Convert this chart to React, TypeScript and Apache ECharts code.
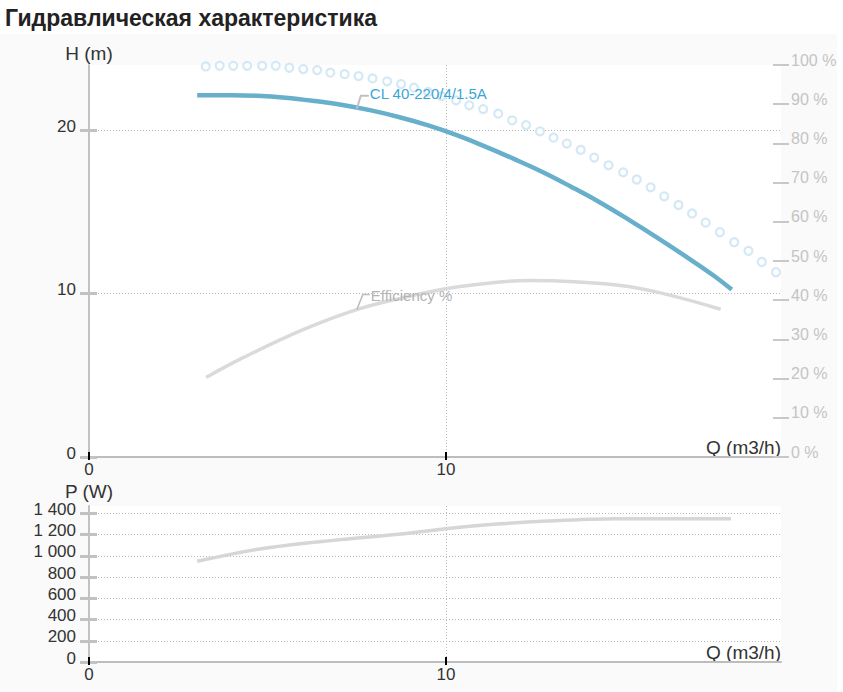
import React, { useEffect, useRef } from "react";
import * as echarts from "echarts";

// Head curve H(Q)
const headQ = [3.03, 4.0, 4.7, 5.5, 6.3, 7.1, 7.9, 8.7, 9.5, 10.3, 11.1, 11.9, 12.7, 13.5, 14.3, 15.1, 15.9, 16.7, 17.5, 18.0];
const headH = [22.15, 22.15, 22.12, 22.0, 21.8, 21.55, 21.22, 20.8, 20.3, 19.7, 19.0, 18.25, 17.45, 16.55, 15.6, 14.55, 13.45, 12.3, 11.1, 10.25];

// Dotted (circles) curve
const dotQ = [3.27, 3.66, 4.04, 4.43, 4.85, 5.23, 5.61, 6.0, 6.39, 6.76, 7.16, 7.55, 7.94, 8.35, 8.74, 9.1, 9.5, 9.88, 10.28, 10.65, 11.04, 11.46, 11.85, 12.24, 12.63, 13.01, 13.38, 13.77, 14.15, 14.55, 14.96, 15.34, 15.73, 16.11, 16.51, 16.89, 17.27, 17.67, 18.07, 18.47, 18.84, 19.24];
const dotH = [23.91, 23.95, 23.95, 23.95, 23.95, 23.95, 23.83, 23.75, 23.69, 23.53, 23.44, 23.32, 23.18, 23.0, 22.83, 22.61, 22.35, 22.08, 21.83, 21.53, 21.3, 21.02, 20.61, 20.32, 19.94, 19.55, 19.19, 18.8, 18.33, 17.86, 17.43, 16.99, 16.51, 15.96, 15.43, 14.91, 14.35, 13.76, 13.15, 12.62, 11.94, 11.31];

// Efficiency (%)
const effQ = [3.28, 4.33, 6.03, 7.5, 8.83, 10.03, 11.43, 12.33, 13.13, 14.83, 16.03, 17.69];
const effV = [20.3, 25.4, 32.6, 37.6, 40.7, 43.0, 44.6, 45.0, 44.9, 43.8, 41.8, 37.7];

// Power (W)
const powQ = [3.03, 4.83, 6.83, 8.83, 9.98, 11.33, 12.83, 14.73, 17.98];
const powP = [949, 1068, 1146, 1209, 1256, 1297, 1328, 1350, 1350];

// Ticks
const qTicks = [0, 10];
const hTicks = [0, 10, 20];
const pTicks = [0, 200, 400, 600, 800, 1000, 1200, 1400];

const TITLE = "Гидравлическая характеристика";
const HEAD_LABEL = "CL 40-220/4/1.5A";
const EFF_LABEL = "Efficiency %";
const LABEL_Q = 7.5;

const FONT = "'Liberation Sans', Arial, sans-serif";
const Q_MAX = 19.38;
const H_MAX = 24;
const P_MAX = 1470;

const zip = (a: number[], b: number[]) => a.map((v, i) => [v, b[i]]);

// position on a polyline, only used to anchor the annotation labels
const at = (xs: number[], ys: number[], x: number) => {
  for (let i = 1; i < xs.length; i++) {
    if (x <= xs[i]) {
      const t = (x - xs[i - 1]) / (xs[i] - xs[i - 1]);
      return ys[i - 1] + t * (ys[i] - ys[i - 1]);
    }
  }
  return ys[ys.length - 1];
};

const fmtP = (v: number) =>
  v >= 1000 ? `${Math.floor(v / 1000)} ${String(v % 1000).padStart(3, "0")}` : String(v);

export default function App() {
  const ref = useRef<HTMLDivElement>(null);

  useEffect(() => {
    if (!ref.current) return;
    const chart = echarts.init(ref.current, null, { renderer: "svg" });

    const gridTop = { left: 89, top: 65, width: 692, height: 392, outerBoundsMode: "none", containLabel: false };
    const gridBot = { left: 89, top: 506, width: 692, height: 156, outerBoundsMode: "none", containLabel: false };

    const dotted = { show: true, lineStyle: { color: "#bbbbbb", width: 1, type: [1, 2] as any } };
    const axisGray = "#c2c2c2";

    const mainX = (gridIndex: number) => ({
      type: "value",
      gridIndex,
      min: 0,
      max: Q_MAX,
      interval: 10,
      name: "Q (m3/h)",
      nameLocation: "end",
      nameGap: 0,
      nameTextStyle: {
        fontSize: 19,
        color: "#333",
        fontFamily: FONT,
        align: "right",
        verticalAlign: "bottom",
      },
      axisLine: { show: true, onZero: false, lineStyle: { color: "#bdbdbd", width: 2 } },
      axisTick: { show: true, inside: true, length: 5, customValues: qTicks, lineStyle: { color: "#000", width: 2 } },
      axisLabel: { show: true, customValues: qTicks, margin: 4, fontSize: 17, color: "#333", fontFamily: FONT },
      splitLine: { ...dotted, showMinLine: false },
    });

    const overlayX = (gridIndex: number) => ({
      type: "value",
      gridIndex,
      min: 0,
      max: Q_MAX,
      interval: 10,
      axisLine: { show: false, onZero: false },
      axisTick: { show: true, inside: false, length: 3, customValues: qTicks, lineStyle: { color: "#000", width: 2 } },
      axisLabel: { show: false },
      splitLine: { show: false },
    });

    const leftLabel = {
      margin: 13,
      fontSize: 17,
      color: "#333",
      fontFamily: FONT,
      verticalAlign: "bottom",
      lineHeight: 8,
    };

    const option: any = {
      animation: false,
      textStyle: { fontFamily: FONT },
      grid: [
        { ...gridTop, show: true, backgroundColor: "#ffffff", borderWidth: 0 },
        { ...gridBot, show: true, backgroundColor: "#ffffff", borderWidth: 0 },
        { ...gridTop, show: false },
        { ...gridBot, show: false },
      ],
      xAxis: [mainX(0), mainX(1), overlayX(2), overlayX(3)],
      yAxis: [
        {
          type: "value",
          gridIndex: 0,
          position: "left",
          min: 0,
          max: H_MAX,
          interval: 10,
          name: "H (m)",
          nameLocation: "end",
          nameGap: 2,
          nameTextStyle: { fontSize: 19, color: "#333", fontFamily: FONT, align: "center", verticalAlign: "bottom" },
          axisLine: { show: true, lineStyle: { color: axisGray, width: 2 } },
          axisTick: { show: true, inside: false, length: 9, customValues: hTicks, lineStyle: { color: axisGray, width: 3 } },
          axisLabel: { ...leftLabel, customValues: hTicks },
          splitLine: { ...dotted, showMinLine: false },
        },
        {
          type: "value",
          gridIndex: 0,
          position: "right",
          min: 0,
          max: 100,
          interval: 10,
          axisLine: { show: false },
          axisTick: { show: true, inside: false, length: 8, lineStyle: { color: "#c8c8c8", width: 2 } },
          axisLabel: {
            margin: 10,
            fontSize: 16,
            color: "#c4c4c4",
            fontFamily: FONT,
            formatter: "{value} %",
            verticalAlign: "bottom",
            lineHeight: 10,
          },
          splitLine: { show: false },
        },
        {
          type: "value",
          gridIndex: 1,
          position: "left",
          min: 0,
          max: P_MAX,
          interval: 200,
          name: "P (W)",
          nameLocation: "end",
          nameGap: 0,
          nameTextStyle: { fontSize: 19, color: "#333", fontFamily: FONT, align: "center", verticalAlign: "bottom" },
          axisLine: { show: true, lineStyle: { color: axisGray, width: 2 } },
          axisTick: { show: true, inside: false, length: 9, customValues: pTicks, lineStyle: { color: axisGray, width: 3 } },
          axisLabel: { ...leftLabel, customValues: pTicks, formatter: (v: number) => fmtP(v) },
          splitLine: { ...dotted, showMinLine: false },
        },
        {
          type: "value",
          gridIndex: 2,
          position: "left",
          min: 0,
          max: H_MAX,
          interval: 10,
          axisLine: { show: false },
          axisTick: { show: true, inside: true, length: 8, customValues: hTicks, lineStyle: { color: axisGray, width: 3 } },
          axisLabel: { show: false },
          splitLine: { show: false },
        },
        {
          type: "value",
          gridIndex: 2,
          position: "right",
          min: 0,
          max: 100,
          interval: 10,
          axisLine: { show: false },
          axisTick: { show: true, inside: true, length: 8, lineStyle: { color: "#c8c8c8", width: 2 } },
          axisLabel: { show: false },
          splitLine: { show: false },
        },
        {
          type: "value",
          gridIndex: 3,
          position: "left",
          min: 0,
          max: P_MAX,
          interval: 200,
          axisLine: { show: false },
          axisTick: { show: true, inside: true, length: 8, customValues: pTicks, lineStyle: { color: axisGray, width: 3 } },
          axisLabel: { show: false },
          splitLine: { show: false },
        },
      ],
      series: [
        {
          name: EFF_LABEL,
          type: "line",
          xAxisIndex: 0,
          yAxisIndex: 1,
          data: zip(effQ, effV),
          showSymbol: false,
          smooth: 0.4,
          lineStyle: { color: "#dadada", width: 3.5 },
          z: 2,
        },
        {
          name: "dots",
          type: "scatter",
          xAxisIndex: 0,
          yAxisIndex: 0,
          data: zip(dotQ, dotH),
          symbol: "circle",
          symbolSize: 8,
          itemStyle: { color: "#ffffff", borderColor: "#c9e4f2", borderWidth: 2.2 },
          z: 3,
        },
        {
          name: HEAD_LABEL,
          type: "line",
          xAxisIndex: 0,
          yAxisIndex: 0,
          data: zip(headQ, headH),
          showSymbol: false,
          smooth: 0.4,
          lineStyle: { color: "#67afcb", width: 4.5 },
          z: 4,
        },
        {
          name: "P",
          type: "line",
          xAxisIndex: 1,
          yAxisIndex: 2,
          data: zip(powQ, powP),
          showSymbol: false,
          smooth: 0.3,
          lineStyle: { color: "#d6d6d6", width: 3.5 },
          z: 2,
        },
      ],
    };

    chart.setOption(option);

    const ph = chart.convertToPixel({ xAxisIndex: 0, yAxisIndex: 0 }, [LABEL_Q, at(headQ, headH, LABEL_Q)]) as number[];
    const pe = chart.convertToPixel({ xAxisIndex: 0, yAxisIndex: 1 }, [LABEL_Q, at(effQ, effV, LABEL_Q)]) as number[];

    chart.setOption({
      graphic: [
        {
          type: "text",
          left: 5,
          top: 6,
          z: 100,
          style: { text: TITLE, fontSize: 23, fontWeight: "bold", fill: "#222", fontFamily: FONT },
        },
        {
          type: "polyline",
          z: 100,
          shape: { points: [[ph[0], ph[1] + 1], [ph[0] + 4, ph[1] - 12], [ph[0] + 12, ph[1] - 12]] },
          style: { stroke: "#c0c0c0", lineWidth: 2, fill: "none" },
        },
        {
          type: "text",
          z: 100,
          x: ph[0] + 13,
          y: ph[1] - 14,
          style: { text: HEAD_LABEL, fontSize: 15, fill: "#3ba6d6", fontFamily: FONT, verticalAlign: "middle", align: "left" },
        },
        {
          type: "polyline",
          z: 100,
          shape: { points: [[pe[0], pe[1]], [pe[0] + 6, pe[1] - 15], [pe[0] + 13, pe[1] - 15]] },
          style: { stroke: "#bdbdbd", lineWidth: 1.5, fill: "none" },
        },
        {
          type: "text",
          z: 100,
          x: pe[0] + 14,
          y: pe[1] - 14,
          style: { text: EFF_LABEL, fontSize: 15, fill: "#b3b3b3", fontFamily: FONT, verticalAlign: "middle", align: "left" },
        },
      ],
    });

    return () => chart.dispose();
  }, []);

  return (
    <div style={{ position: "fixed", left: 0, top: 0, width: 843, height: 692, background: "#ffffff" }}>
      <div style={{ position: "absolute", left: 0, top: 34, width: 837, height: 658, background: "#fafafa" }} />
      <div ref={ref} style={{ position: "absolute", left: 0, top: 0, width: 843, height: 692 }} />
    </div>
  );
}
